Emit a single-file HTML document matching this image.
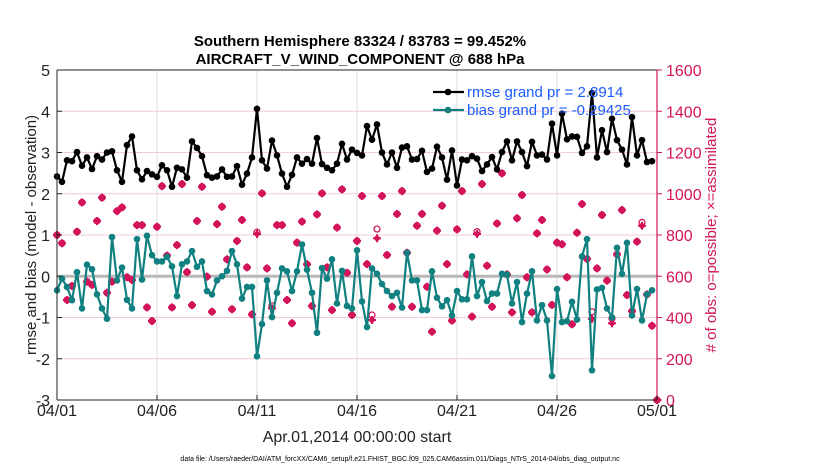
<!DOCTYPE html>
<html><head><meta charset="utf-8">
<style>
html,body{margin:0;padding:0;background:#fff;}
svg{display:block;font-family:"Liberation Sans",Arial,sans-serif;}
</style></head>
<body>
<svg id="chart" width="830" height="470" viewBox="0 0 830 470"></svg>
<script>
const dayLabels = ["04/01","04/06","04/11","04/16","04/21","04/26","05/01"];
const leftTicks = [5,4,3,2,1,0,-1,-2,-3];
const rightTicks = [0,200,400,600,800,1000,1200,1400,1600];
const rmse = [2.42,2.29,2.81,2.79,3.01,2.68,2.88,2.60,2.91,2.83,3.0,3.03,2.57,2.29,3.18,3.39,2.57,2.35,2.55,2.47,
2.41,2.69,2.57,2.17,2.63,2.59,2.39,3.27,3.11,2.91,2.45,2.39,2.42,2.59,2.41,2.42,2.67,2.22,2.49,2.88,
4.06,2.81,2.61,3.29,2.93,2.49,2.17,2.46,2.88,2.73,2.84,2.73,3.35,2.72,2.63,2.57,2.73,3.21,2.83,3.07,
2.99,2.93,3.64,3.31,3.68,3.0,2.71,3.0,2.63,3.12,3.15,2.83,2.84,3.04,2.53,2.61,3.14,2.88,2.34,3.05,
2.20,2.83,2.81,2.91,2.85,2.55,2.71,2.89,2.59,3.01,3.27,2.81,3.27,3.01,2.67,3.26,2.93,2.95,2.83,3.70,
2.93,3.94,3.32,3.39,3.38,2.99,3.15,4.44,2.88,3.54,3.01,3.82,3.30,3.07,2.71,3.86,2.93,3.30,2.77,2.79];
const bias = [-0.34,-0.06,-0.26,-0.58,0.1,-0.78,0.28,0.17,-0.44,-0.78,-1.03,0.95,-0.1,0.21,-0.57,-0.78,0.90,-0.08,0.98,0.51,
0.36,0.36,0.47,0.24,-0.48,0.29,0.36,0.61,0.23,0.36,-0.36,-0.44,-0.1,0.0,0.13,0.61,0.29,-0.54,-0.26,-0.26,
-1.94,-1.16,-0.1,-0.99,-0.4,0.19,0.12,-0.36,0.12,0.77,0.16,-0.4,-1.37,0.2,-0.06,0.41,-0.66,0.13,-0.72,-0.78,
0.63,-0.61,-1.23,0.19,0.06,-0.19,-0.36,-0.48,-0.40,-0.76,0.57,-0.1,-0.1,-0.82,-0.82,0.12,-0.52,-0.73,-0.58,-0.95,
-0.36,-0.56,-0.56,0.48,-0.48,-0.14,-0.6,-0.42,-0.42,0.06,0.04,-0.66,-0.14,-1.11,-0.42,0.12,-1.07,-0.70,-1.07,-2.42,
-0.31,-1.11,-1.09,-0.62,-1.05,0.48,0.90,-2.28,-0.32,-0.28,-0.78,-1.0,0.69,0.06,0.81,-0.95,-0.31,-1.07,-0.44,-0.34];
const assimilated = [800,760,485,553,816,958,574,558,868,981,520,574,916,934,595,582,848,848,449,383,
840,1037,700,449,751,1047,620,460,868,1034,598,428,853,937,682,440,771,873,643,415,
805,1002,638,444,848,848,485,372,763,865,658,456,900,1002,643,436,836,1021,617,412,
771,989,659,388,784,989,703,452,902,1013,714,452,845,902,549,331,821,942,659,385,
827,1013,609,404,805,1047,651,452,856,1099,609,425,881,994,595,425,808,873,633,461,
763,755,595,367,811,950,684,393,638,897,579,372,706,921,509,431,768,845,512,360,0];
const possible = [800,760,485,553,816,958,574,558,868,981,520,574,916,934,595,582,848,848,449,383,
840,1037,700,449,751,1047,620,460,868,1034,598,428,853,937,682,440,771,873,643,415,
813,1002,638,457,848,848,485,372,763,865,658,456,900,1002,643,436,836,1021,617,412,
771,989,659,412,829,989,703,452,902,1013,714,452,845,902,549,331,821,942,659,385,
827,1013,609,404,816,1047,651,452,856,1099,609,425,881,994,595,425,808,873,633,461,
763,755,595,367,811,950,684,428,638,897,579,396,706,921,509,431,768,861,512,360,0];

const NS="http://www.w3.org/2000/svg";
const svg=document.getElementById('chart');
const X0=57, X1=657, Y0=70, Y1=400;
const xDay=d=>X0+(d/30)*(X1-X0);
const xIdx=i=>xDay(i/4);
const yL=v=>Y0+(5-v)/8*(Y1-Y0);
const yR=v=>Y1-v/1600*(Y1-Y0);
const CR="#d4145a";
function el(tag,attrs,parent){const e=document.createElementNS(NS,tag);for(const k in attrs)e.setAttribute(k,attrs[k]);(parent||svg).appendChild(e);return e;}

const grid=el('g',{});


rightTicks.forEach(t=>{el('line',{x1:X0,x2:X1,y1:yR(t),y2:yR(t),stroke:'#f2c9d8','stroke-width':1},grid);});
dayLabels.forEach((l,k)=>{el('line',{x1:xDay(k*5),x2:xDay(k*5),y1:Y0,y2:Y1,stroke:'#dcdcdc','stroke-width':1},grid);});
const zl=el('line',{x1:X0,x2:X1,y1:yL(0),y2:yL(0),stroke:'#b8b8b8','stroke-width':3});



const obsG=el('g',{});


possible.forEach((v,i)=>{
  const c=el('circle',{cx:xIdx(i),cy:yR(v),r:3,fill:'none',stroke:CR,'stroke-width':1.3},obsG);
  
  
});
assimilated.forEach((v,i)=>{
  const x=xIdx(i),y=yR(v);
  const g=el('g',{},obsG);
  
  
  el('circle',{cx:x,cy:y,r:2.8,fill:CR},g);
  el('path',{d:`M${x-4} ${y}H${x+4}M${x} ${y-4}V${y+4}`,stroke:CR,'stroke-width':2},g);
});

function series(vals,color,name){
  const g=el('g',{});
  
  
  el('polyline',{points:vals.map((v,i)=>xIdx(i)+','+yL(v)).join(' '),fill:'none',stroke:color,'stroke-width':2.2,'stroke-linejoin':'round'},g);
  vals.forEach((v,i)=>{
    const c=el('circle',{cx:xIdx(i),cy:yL(v),r:3.3,fill:color},g);
    
    
  });
}
series(bias,'#118080','bias-series');
series(rmse,'#000000','rmse-series');

const ax=el('g',{});


el('line',{x1:X0,x2:X1,y1:Y0,y2:Y0,stroke:'#222','stroke-width':1},ax);
el('line',{x1:X0,x2:X1,y1:Y1,y2:Y1,stroke:'#222','stroke-width':1},ax);
el('line',{x1:X0,x2:X0,y1:Y0,y2:Y1,stroke:'#222','stroke-width':1},ax);
el('line',{x1:X1,x2:X1,y1:Y0,y2:Y1,stroke:CR,'stroke-width':1.2},ax);
leftTicks.forEach(t=>{
  el('line',{x1:X0,x2:X0+5,y1:yL(t),y2:yL(t),stroke:'#222'},ax);
  const tx=el('text',{x:X0-7,y:yL(t)+6,'text-anchor':'end','font-size':16,fill:'#222'},ax);
  tx.textContent=t;
  
  
});
rightTicks.forEach(t=>{
  el('line',{x1:X1,x2:X1+5,y1:yR(t),y2:yR(t),stroke:CR},ax);
  const tx=el('text',{x:X1+9,y:yR(t)+6,'font-size':16,fill:CR},ax);
  tx.textContent=t;
  
  
});
dayLabels.forEach((l,k)=>{
  el('line',{x1:xDay(k*5),x2:xDay(k*5),y1:Y1,y2:Y1-5,stroke:'#222'},ax);
  const tx=el('text',{x:xDay(k*5),y:416,'text-anchor':'middle','font-size':16,fill:'#222'},ax);
  tx.textContent=l;
  
  
});

const T=[
 ['title-line-1',360,46,'middle',15,'bold','#000','Southern Hemisphere 83324 / 83783 = 99.452%'],
 ['title-line-2',360,64,'middle',15,'bold','#000','AIRCRAFT_V_WIND_COMPONENT @ 688 hPa'],
 ['x-axis-title',357,442,'middle',16,'normal','#222','Apr.01,2014 00:00:00 start'],
 ['data-file-note',400,461,'middle',7,'normal','#000','data file: /Users/raeder/DAI/ATM_forcXX/CAM6_setup/f.e21.FHIST_BGC.f09_025.CAM6assim.011/Diags_NTrS_2014-04/obs_diag_output.nc'],
 ['legend-rmse-label',467,97,'start',15,'normal','#1a5cff','rmse grand pr = 2.8914'],
 ['legend-bias-label',467,115,'start',15,'normal','#1a5cff','bias grand pr = -0.29425']
];
T.forEach(a=>{const t=el('text',{x:a[1],y:a[2],'text-anchor':a[3],'font-size':a[4],'font-weight':a[5],fill:a[6]});t.textContent=a[7];

});
const yl=el('text',{x:0,y:0,transform:'translate(36,235) rotate(-90)','text-anchor':'middle','font-size':15,fill:'#222'});
yl.textContent='rmse and bias (model - observation)';


const yr=el('text',{x:0,y:0,transform:'translate(716,235) rotate(-90)','text-anchor':'middle','font-size':15,fill:CR});
yr.textContent='# of obs: o=possible; \u00d7=assimilated';


[['#000',92,'legend-rmse-line'],['#118080',110,'legend-bias-line']].forEach(a=>{
  const g=el('g',{});
  
  
  el('line',{x1:433,x2:464,y1:a[1],y2:a[1],stroke:a[0],'stroke-width':2.2},g);
  el('circle',{cx:448,cy:a[1],r:3.3,fill:a[0]},g);
});
</script>
</body></html>
